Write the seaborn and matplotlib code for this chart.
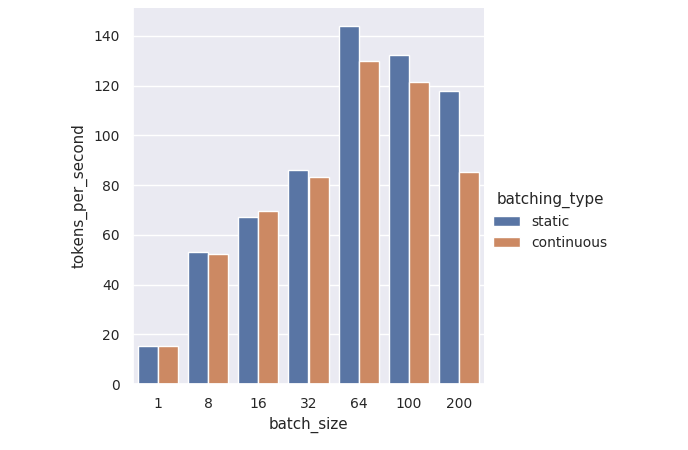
import pandas as pd
import matplotlib
matplotlib.use("Agg")
import matplotlib.pyplot as plt
import seaborn as sns

# ---- data ----
batch_sizes = ["1", "8", "16", "32", "64", "100", "200"]
static_tps = [15.4, 52.9, 67.3, 86.1, 144.0, 132.5, 117.9]
continuous_tps = [15.4, 52.1, 69.6, 83.3, 130.0, 121.6, 85.2]
batching_types = ["static", "continuous"]

df = pd.DataFrame({
    "batch_size": batch_sizes * 2,
    "tokens_per_second": static_tps + continuous_tps,
    "batching_type": [batching_types[0]] * len(batch_sizes)
                     + [batching_types[1]] * len(batch_sizes),
})

sns.set_theme(style="darkgrid", font_scale=0.91)

g = sns.catplot(
    data=df,
    x="batch_size",
    y="tokens_per_second",
    hue="batching_type",
    order=batch_sizes,
    hue_order=batching_types,
    kind="bar",
    height=4,
    aspect=1,
)

fig = g.figure
fig.set_size_inches(6.88, 4.5)
fig.subplots_adjust(left=133 / 688, right=484 / 688,
                    bottom=66 / 450, top=442 / 450)
sns.move_legend(g, "center left", bbox_to_anchor=(480 / 688, 0.51), frameon=False)

fig.savefig("out.png", dpi=100)
